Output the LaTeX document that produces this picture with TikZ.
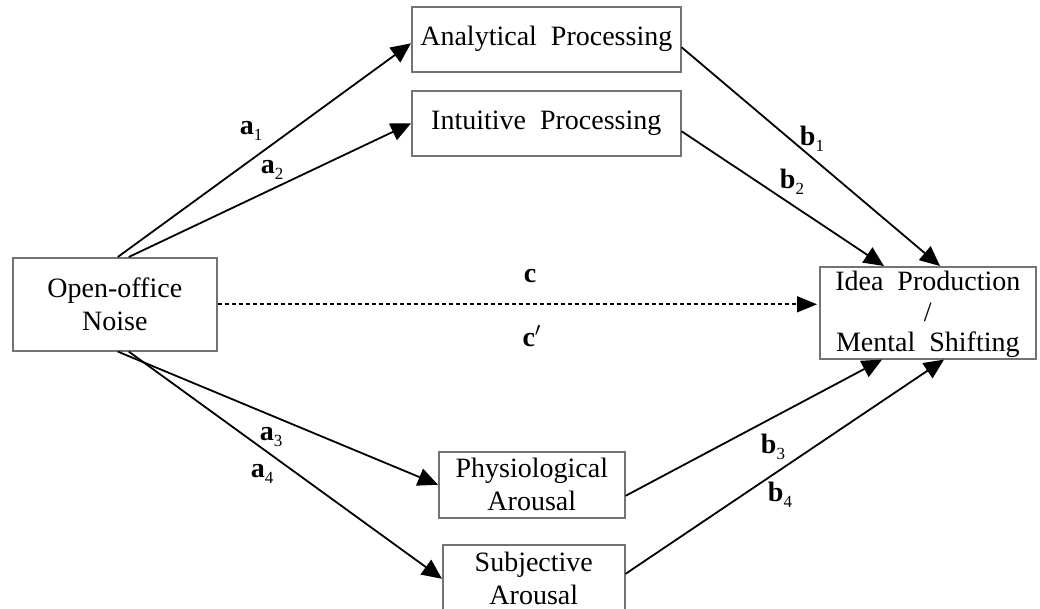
\documentclass[tikz,border=0pt]{standalone}
\usepackage{fontspec}
\setmainfont{Liberation Serif}
\usetikzlibrary{arrows.meta,calc}
\newcommand{\lbl}[2]{\textbf{#1}\raisebox{-3pt}{\fontsize{8.5}{9}\selectfont #2}}
\begin{document}
\begin{tikzpicture}[x=0.5pt,y=-0.5pt,
  box/.style={draw=black!55,line width=0.8pt,inner sep=0pt,align=center,anchor=north west,font=\fontsize{14}{16.5}\selectfont},
  arr/.style={line width=0.9pt,-{Triangle[length=10pt,width=9pt]}},
  lab/.style={font=\fontsize{14}{16}\selectfont,inner sep=0pt}]
\useasboundingbox (0,0) rectangle (1040,609);
\node[box,minimum width=102pt,minimum height=46.5pt] (noise) at (12,257) {Open-office\\Noise};
\node[box,minimum width=134.5pt,minimum height=32.5pt] (anal) at (411,6) {Analytical~~Processing};
\node[box,minimum width=134.5pt,minimum height=32.5pt] (intu) at (411,90) {Intuitive~~Processing};
\node[box,minimum width=108pt,minimum height=46pt,font=\fontsize{14}{15.2}\selectfont] (idea) at (819,266) {\rule{0pt}{11.5pt}Idea~~Production\\/\\Mental~~Shifting};
\node[box,minimum width=93pt,minimum height=33pt] (phys) at (438,451) {Physiological\\Arousal};
\node[box,minimum width=91pt,minimum height=34pt] (subj) at (442,544) {Subjective\\Arousal};
% a paths
\draw[arr] ([xshift=1.5pt]noise.north) -- ([yshift=-2pt]anal.west);
\draw[arr] ([xshift=7pt]noise.north) -- (intu.west);
\draw[arr] ([xshift=1.5pt]noise.south) -- (phys.west);
\draw[arr] ([xshift=7pt]noise.south) -- (subj.west);
% b paths
\draw[arr] ([yshift=-4pt]anal.east) -- ($(idea.north west)+(121,0)$);
\draw[arr] ([yshift=-4pt]intu.east) -- ($(idea.north west)+(65,0)$);
\draw[arr] ([yshift=-5.5pt]phys.east) -- ($(idea.south west)+(63,0)$);
\draw[arr] ([yshift=2.5pt]subj.east) -- ($(idea.south west)+(125,0)$);
% c path
\coordinate (cend) at (noise.east -| idea.west);
\draw[line width=0.8pt,dash pattern=on 2pt off 1.5pt,-{Triangle[length=10pt,width=8pt]}] (noise.east) -- ([xshift=-1pt]cend);
% labels
\node[lab] (la1) at (251,131) {\lbl{a}{1}};
\node[lab] (la2) at (272,170) {\lbl{a}{2}};
\node[lab] (la3) at (271,437) {\lbl{a}{3}};
\node[lab] (la4) at (262,474) {\lbl{a}{4}};
\node[lab] (lb1) at (812,139) {\lbl{b}{1}};
\node[lab] (lb2) at (792,182) {\lbl{b}{2}};
\node[lab] (lb3) at (773,447) {\lbl{b}{3}};
\node[lab] (lb4) at (780,495) {\lbl{b}{4}};
\node[lab] (lc) at (530,276) {\textbf{c}};
\node[lab] (lcp) at (532,336) {\textbf{c}$'$};
\end{tikzpicture}
\end{document}
